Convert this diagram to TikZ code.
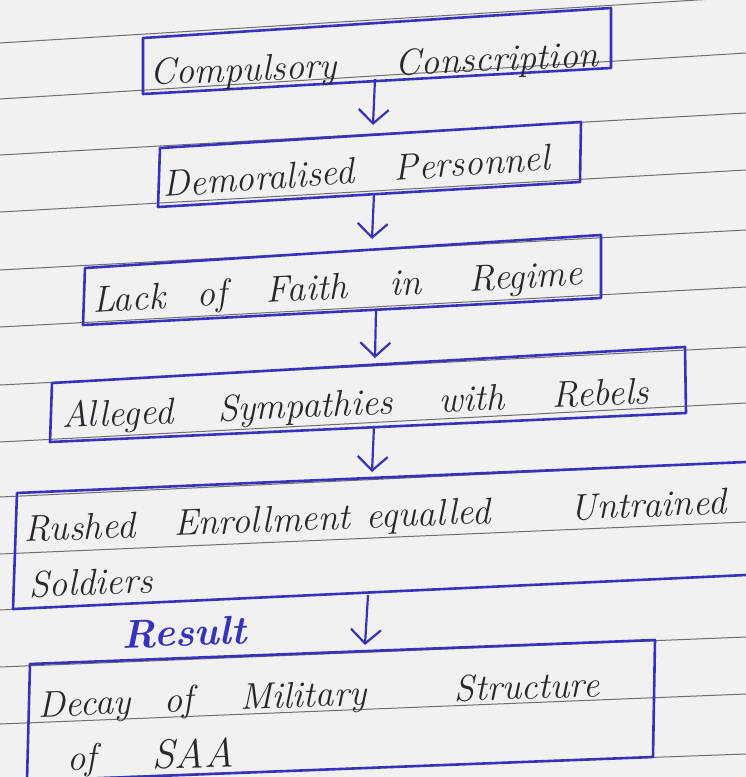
\documentclass[tikz,border=0pt]{standalone}
\usepackage{fontspec}
\usetikzlibrary{arrows.meta}
\definecolor{paper}{RGB}{241,241,242}
\definecolor{rulegray}{RGB}{110,110,110}
\definecolor{ink}{RGB}{55,50,188}
\definecolor{pencil}{RGB}{40,40,44}
% a word set in a box of given width, so the next word starts at a fixed place
\newcommand\hwword[2]{\makebox[#1pt][l]{#2}}

\begin{document}
\begin{tikzpicture}[x=1pt,y=-1pt,
  ruling/.style={rulegray, line width=1pt},
  boxline/.style={ink, line width=2.6pt, line join=round, line cap=round},
  hand/.style={pencil, font=\fontsize{37}{42}\selectfont\itshape, inner sep=0pt, anchor=base west},
  flow/.style={ink, line width=2.2pt, -{Straight Barb[length=14pt,width=30pt]}},
]
\fill[paper] (0,0) rectangle (746,777);
\useasboundingbox (0,0) rectangle (746,777);
\clip (0,0) rectangle (746,777);

% ruled notebook lines
\foreach \l/\r in {43/-3, 99/53, 155/113, 212/170, 270/230, 327/287, 385/347,
                   442/403, 497/462, 554/522, 610/575, 667/637, 724/694, 781/754}
  \draw[ruling] (0,\l) -- (746,\r);

% box corners
\coordinate (b1tl) at (143,38);  \coordinate (b1tr) at (611,8);
\coordinate (b1br) at (611,68);  \coordinate (b1bl) at (143,94);
\coordinate (b2tl) at (160,148); \coordinate (b2tr) at (581,122);
\coordinate (b2br) at (580,182); \coordinate (b2bl) at (158,207);
\coordinate (b3tl) at (85,268);  \coordinate (b3tr) at (601,235);
\coordinate (b3br) at (601,298); \coordinate (b3bl) at (83,325);
\coordinate (b4tl) at (52,383);  \coordinate (b4tr) at (685,347);
\coordinate (b4br) at (686,413); \coordinate (b4bl) at (50,442);
\coordinate (b5tl) at (17,493);  \coordinate (b5tr) at (746,462);
\coordinate (b5br) at (746,575); \coordinate (b5bl) at (13,609);
\coordinate (b6tl) at (30,664);  \coordinate (b6tr) at (655,640);
\coordinate (b6br) at (653,757); \coordinate (b6bl) at (27,781);

% boxes
\draw[boxline] (b1tl) -- (b1tr) -- (b1br) -- (b1bl) -- cycle;
\draw[boxline] (b2tl) -- (b2tr) -- (b2br) -- (b2bl) -- cycle;
\draw[boxline] (b3tl) -- (b3tr) -- (b3br) -- (b3bl) -- cycle;
\draw[boxline] (b4tl) -- (b4tr) -- (b4br) -- (b4bl) -- cycle;
\draw[boxline] (b5tr) -- (b5tl) -- (b5bl) -- (b5br);
\draw[boxline] (b6bl) -- (b6tl) -- (b6tr) -- (b6br) -- (b6bl);

% box texts
\node[hand, rotate=2.3] (t1) at (150,85) {\hwword{246}{Compulsory}Conscription};
\node[hand, rotate=4.0] (t2) at (163,197) {\hwword{232}{Demoralised}Personnel};
\node[hand, rotate=3.3] (t3) at (93,313)
  {\hwword{105}{Lack}\hwword{69}{of}\hwword{124}{Faith}\hwword{79}{in}Regime};
\node[hand, rotate=2.4] (t4) at (62,428)
  {\hwword{156}{Alleged}\hwword{222}{Sympathies}\hwword{113}{with}Rebels};
\node[hand, rotate=2.3] (t5a) at (24,542)
  {\hwword{150}{Rushed}\hwword{193}{Enrollment}\hwword{204}{equalled}Untrained};
\node[hand, rotate=2] (t5b) at (29,597) {Soldiers};
\node[hand, rotate=2, ink, font=\fontsize{40}{44}\selectfont\bfseries\itshape] (res) at (122,648) {Result};
\node[hand, rotate=2.1] (t6a) at (38,717)
  {\hwword{126}{Decay}\hwword{76}{of}\hwword{215}{Military}Structure};
\node[hand, rotate=1] (t6b) at (67,770) {\hwword{85}{of}{\fontsize{41}{44}\selectfont SAA}};

% connectors
\coordinate (a1s) at (375,79);  \coordinate (a1e) at (373,125);
\coordinate (a2s) at (374,194); \coordinate (a2e) at (372,239);
\coordinate (a3s) at (376,310); \coordinate (a3e) at (375,358);
\coordinate (a4s) at (374,426); \coordinate (a4e) at (372,472);
\coordinate (a5s) at (368,595); \coordinate (a5e) at (365,645);
\draw[flow] (a1s) -- (a1e);
\draw[flow] (a2s) -- (a2e);
\draw[flow] (a3s) -- (a3e);
\draw[flow] (a4s) -- (a4e);
\draw[flow] (a5s) -- (a5e);
\end{tikzpicture}
\end{document}
